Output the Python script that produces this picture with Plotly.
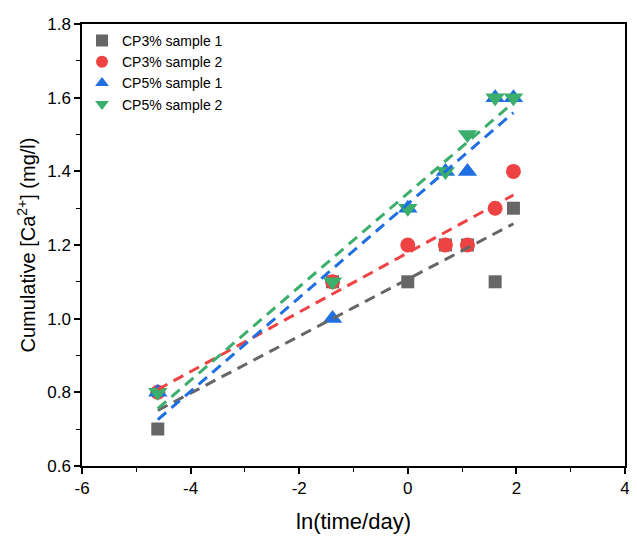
import numpy as np
import plotly.graph_objects as go

x_vals = [-4.605, -1.386, 0.0, 0.693, 1.099, 1.609, 1.946]
cp3_s1 = [0.7, 1.1, 1.1, 1.2, 1.2, 1.1, 1.3]
cp3_s2 = [0.8, 1.1, 1.2, 1.2, 1.2, 1.3, 1.4]
cp5_s1 = [0.8, 1.0, 1.3, 1.4, 1.4, 1.6, 1.6]
cp5_s2 = [0.8, 1.1, 1.3, 1.4, 1.5, 1.6, 1.6]
x_ticks = [-6, -4, -2, 0, 2, 4]
y_ticks = [0.6, 0.8, 1.0, 1.2, 1.4, 1.6, 1.8]

series = [
    ("CP3% sample 1", cp3_s1, "square", "#666666", 13),
    ("CP3% sample 2", cp3_s2, "circle", "#EF4242", 15),
    ("CP5% sample 1", cp5_s1, "triangle-up", "#1F6FE0", 17),
    ("CP5% sample 2", cp5_s2, "triangle-down", "#3AAE6A", 17),
]

fig = go.Figure()
for name, ys, sym, col, sz in series:
    fig.add_trace(go.Scatter(x=x_vals, y=ys, mode="markers", name=name,
                             marker=dict(symbol=sym, color=col, size=sz, line=dict(width=0))))
for name, ys, sym, col, sz in series:
    k, b = np.polyfit(x_vals, ys, 1)
    xs = [min(x_vals), max(x_vals)]
    fig.add_trace(go.Scatter(x=xs, y=[k * v + b for v in xs], mode="lines", showlegend=False,
                             line=dict(color=col, width=3, dash="11px,7px"), hoverinfo="skip"))

axis_common = dict(showline=True, linecolor="black", linewidth=1.5, mirror=True,
                   ticks="outside", ticklen=6, tickwidth=1.5, tickcolor="black",
                   showgrid=False, zeroline=False,
                   tickfont=dict(size=17, color="black"))
fig.update_xaxes(range=[-6.001, 4.001], tickmode="array", tickvals=x_ticks,
                 ticktext=[str(v) for v in x_ticks],
                 minor=dict(ticks="outside", ticklen=4, tickwidth=1.2, tickcolor="black", dtick=1, tick0=-6),
                 title=dict(text="ln(time/day)", font=dict(size=22, color="black"), standoff=16),
                 **axis_common)
fig.update_yaxes(range=[0.5995, 1.8005], tickmode="array", tickvals=y_ticks,
                 ticktext=[f"{v:.1f}" for v in y_ticks],
                 minor=dict(ticks="outside", ticklen=4, tickwidth=1.2, tickcolor="black", dtick=0.1, tick0=0.6),
                 title=dict(text="Cumulative [Ca<sup>2+</sup>] (mg/l)", font=dict(size=20, color="black"), standoff=6),
                 **axis_common)
fig.update_layout(
    width=629, height=529,
    margin=dict(l=74, r=7, t=14, b=69),
    paper_bgcolor="white", plot_bgcolor="white",
    font=dict(family="Arial, Liberation Sans, sans-serif", color="black"),
    legend=dict(x=0.0, y=0.998, xanchor="left", yanchor="top", bgcolor="rgba(0,0,0,0)",
                font=dict(size=14), itemsizing="constant", tracegroupgap=0),
    showlegend=True,
)
fig.write_html("out.html")
